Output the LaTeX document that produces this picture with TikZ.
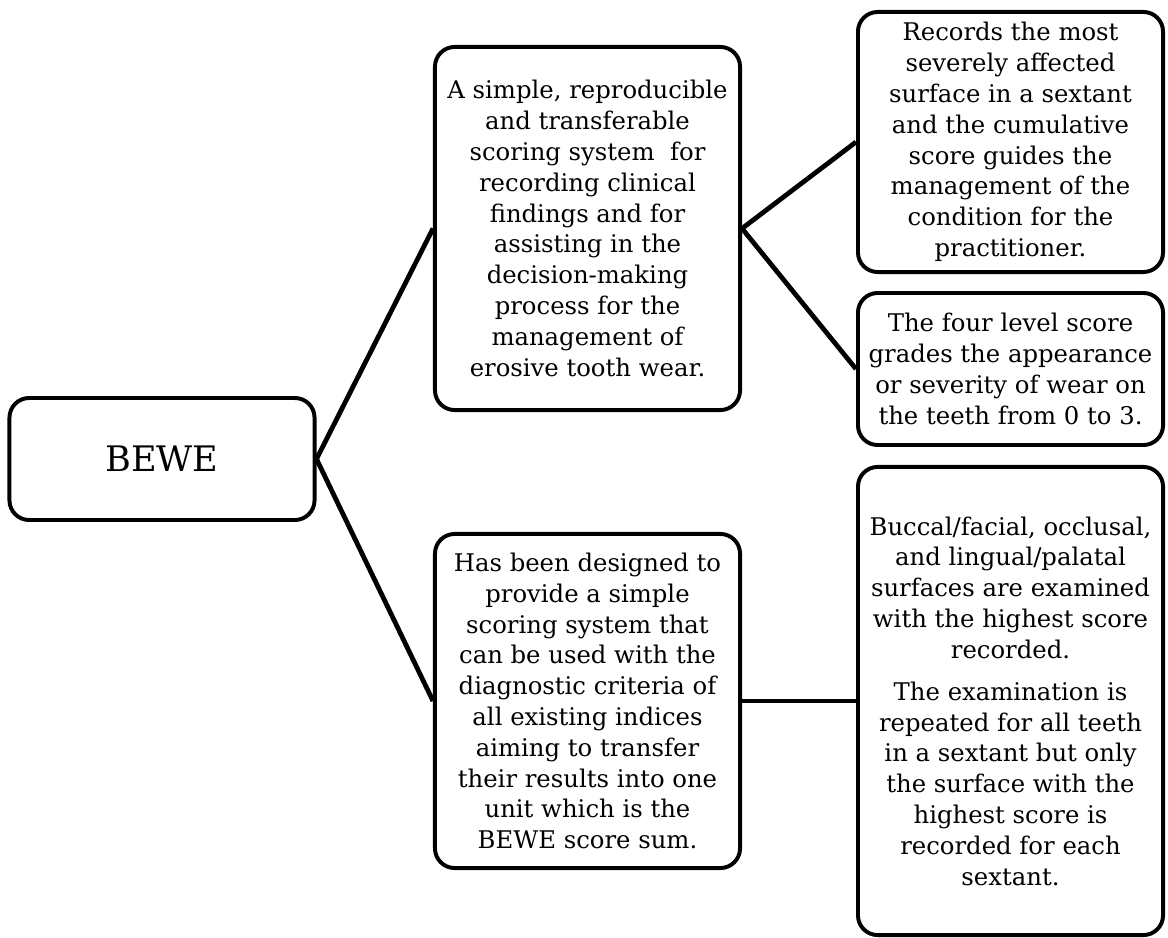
\documentclass[tikz,border=0pt]{standalone}
\usepackage{fontspec}
\setmainfont{DejaVu Serif}
\usetikzlibrary{calc, positioning}
\def\bw{7.625cm}
\tikzset{
    border/.style = {
        draw, rectangle, rounded corners=14pt, minimum width=\bw, line width=2.8pt,
        align=center, inner sep=1pt, font=\fontsize{17.3}{21.9}\selectfont
    },
    link/.style = {
        line width=3.4pt
    },
}

\begin{document}
\begin{tikzpicture}[x=0.025cm, y=-0.025cm]
        \useasboundingbox (0,0) rectangle (1168,938);
        % Place the blocks
        \node [border, minimum height=3.05cm, font=\fontsize{25}{30}\selectfont] (bewe) at (162,459) {BEWE};
        \node [border, minimum height=9.075cm] (simple) at (587.5,228.5) {A simple, reproducible\\ and transferable\\ scoring system~ for\\ recording clinical\\ findings and for\\ assisting in the\\ decision-making\\ process for the\\ management of\\ erosive tooth wear.};
        \node [border, minimum height=8.35cm] (design) at (587.5,701) {Has been designed to\\ provide a simple\\ scoring system that\\ can be used with the\\ diagnostic criteria of\\ all existing indices\\ aiming to transfer\\ their results into one\\ unit which is the\\ BEWE score sum.};
        \node [border, minimum height=6.5cm] (records) at (1010.5,142) {Records the most\\ severely affected\\ surface in a sextant\\ and the cumulative\\ score guides the\\ management of the\\ condition for the\\ practitioner.};
        \node [border, minimum height=3.8cm] (level) at (1010.5,369) {The four level score\\ grades the appearance\\ or severity of wear on\\ the teeth from 0 to 3.};
        \node [border, minimum height=11.7cm] (surfaces) at (1010.5,701) {Buccal/facial, occlusal,\\ and lingual/palatal\\ surfaces are examined\\ with the highest score\\ recorded.\\[8pt] The examination is\\ repeated for all teeth\\ in a sextant but only\\ the surface with the\\ highest score is\\ recorded for each\\ sextant.};
        % Draw connections
        \begin{scope}[link]
            \draw (bewe.east) -- (simple.west);
            \draw (bewe.east) -- (design.west);
            \draw (simple.east) -- (records.west);
            \draw (simple.east) -- (level.west);
            \draw (design.east) -- (surfaces.west);
        \end{scope}
    \end{tikzpicture}
\end{document}
